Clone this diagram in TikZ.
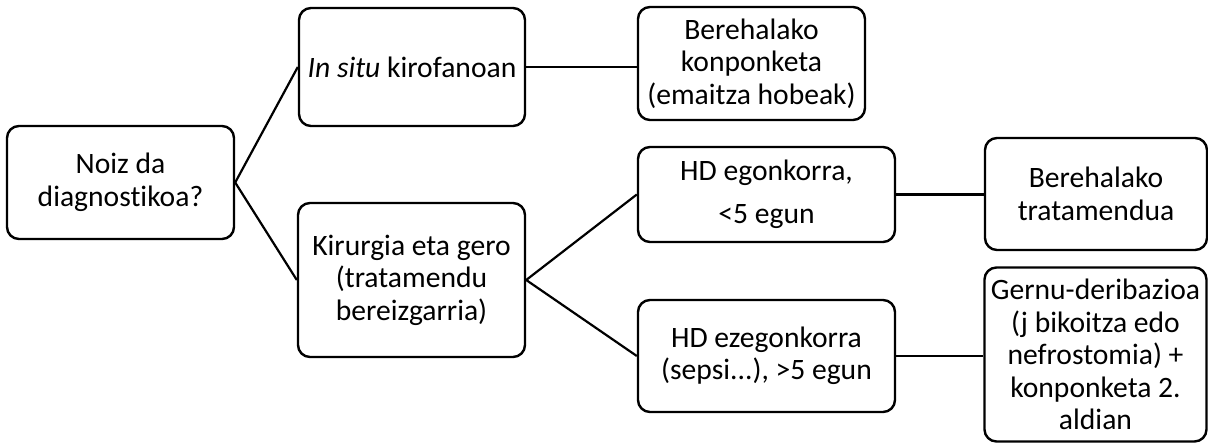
\documentclass[tikz,border=0pt]{standalone}
\usepackage{fontspec}
\setmainfont{Carlito}[Ligatures={NoCommon}]
\begin{document}
\begin{tikzpicture}[x=1pt,y=-1pt,
  box/.style={draw, line width=2.4pt, rounded corners=12pt, align=center,
    inner sep=0pt, font=\fontsize{29.6}{32.5}\selectfont},
  link/.style={line width=2.2pt}]
\useasboundingbox (0,0) rectangle (1208,443);

% decision and first-level branches
\node[box, minimum width=227pt, minimum height=113pt] (q) at (120.5,182.5)
  {Noiz da\\diagnostikoa?};
\node[box, minimum width=226pt, minimum height=118pt] (insitu) at (412,67)
  {\textit{In situ} kirofanoan};
\node[box, minimum width=227pt, minimum height=154pt] (after) at (411.5,280)
  {Kirurgia eta gero\\(tratamendu\\bereizgarria)};

% outcomes
\node[box, minimum width=227pt, minimum height=113pt] (repair) at (751.5,63.5)
  {Berehalako\\konponketa\\(emaitza hobeak)};
\node[box, minimum width=257pt, minimum height=95pt] (stable) at (766.5,194.5)
  {HD egonkorra,\\[11pt]<5 egun};
\node[box, minimum width=257pt, minimum height=112pt] (unstable) at (766.5,356)
  {HD ezegonkorra\\(sepsi...), >5 egun};
\node[box, minimum width=222pt, minimum height=112pt] (treat) at (1096,194)
  {Berehalako\\tratamendua};
\node[box, minimum width=222pt, minimum height=174pt] (deriv) at (1095.5,354.5)
  {Gernu-deribazioa\\(j bikoitza edo\\nefrostomia) +\\konponketa 2.\\aldian};

% connectors
\draw[link] (q.east) -- (insitu.west);
\draw[link] (q.east) -- (after.west);
\draw[link] (insitu.east) -- (insitu.east -| repair.west);
\draw[link] (after.east) -- (stable.west);
\draw[link] (after.east) -- (unstable.west);
\draw[link] (stable.east) -- (stable.east -| treat.west);
\draw[link] (unstable.east) -- (unstable.east -| deriv.west);
\end{tikzpicture}
\end{document}
